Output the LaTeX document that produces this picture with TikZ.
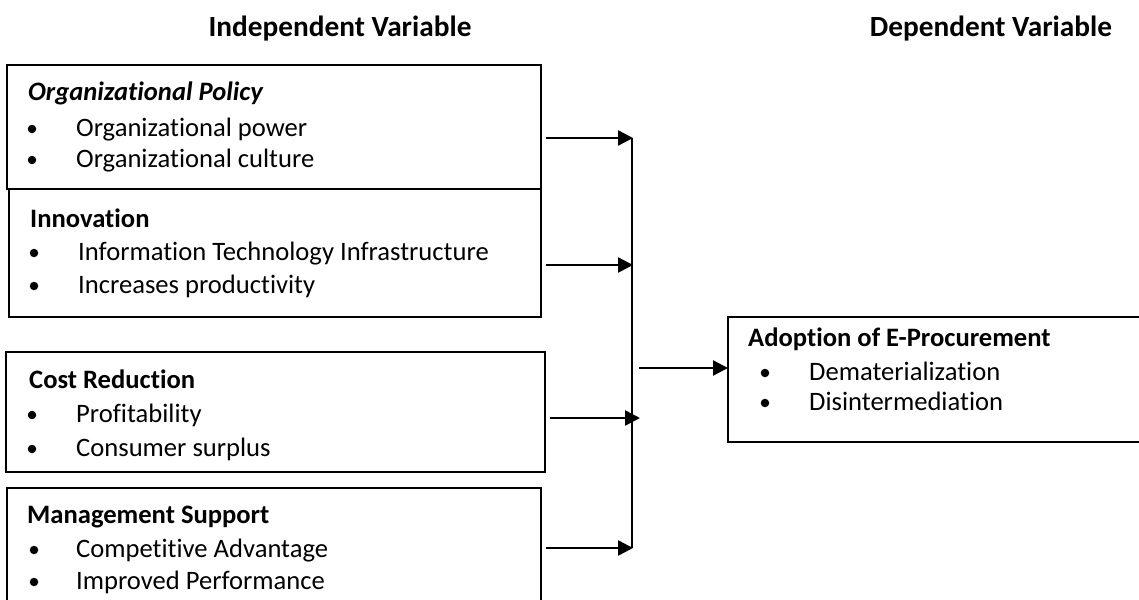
\documentclass[tikz,border=0pt]{standalone}
\usepackage{fontspec}
\setmainfont{Carlito}[RawFeature={-liga}]
\usetikzlibrary{arrows.meta}
\begin{document}
\begin{tikzpicture}[x=1pt,y=-1pt,
  txt/.style={font=\fontsize{26.6}{32}\selectfont, inner sep=0pt, anchor=base west},
  head/.style={font=\fontsize{29.3}{35}\selectfont\bfseries, inner sep=0pt, anchor=base},
  varbox/.style={draw=black, line width=2pt, inner sep=0pt, outer sep=0pt, anchor=north west},
  dot/.style={circle, fill=black, inner sep=0pt, minimum size=8.5pt},
  arr/.style={line width=2.5pt, -{Triangle[length=15pt,width=15pt]}},
  bus/.style={line width=2pt}]
\useasboundingbox (0,0) rectangle (1139,599);
\clip (0,0) rectangle (1139,599);

% column headings
\node[head] (hind) at (340,37) {Independent Variable};
\node[head] (hdep) at (991,37) {Dependent Variable};

% independent variable boxes
\node[varbox, minimum width=534pt, minimum height=124pt] (b1) at (7,65) {};
\node[varbox, minimum width=532pt, minimum height=128pt] (b2) at (9,189) {};
\node[varbox, minimum width=539pt, minimum height=120pt] (b3) at (6,352) {};
\node[varbox, minimum width=534pt, minimum height=117pt] (b4) at (7,488) {};

% dependent variable box (runs past the right edge)
\node[varbox, minimum width=420pt, minimum height=125pt] (dv) at (728,317) {};

% box 1
\node[txt, font=\fontsize{26.6}{32}\selectfont\bfseries\itshape] (t1) at (28,100) {Organizational Policy};
\node[dot] (d11) at (32,129) {};
\node[txt] (t11) at (76,136) {Organizational power};
\node[dot] (d12) at (32,160) {};
\node[txt] (t12) at (76,167) {Organizational culture};

% box 2
\node[txt, font=\fontsize{26.6}{32}\selectfont\bfseries] (t2) at (30,227) {Innovation};
\node[dot] (d21) at (34,253) {};
\node[txt] (t21) at (78,260) {Information Technology Infrastructure};
\node[dot] (d22) at (34,286) {};
\node[txt] (t22) at (78,293) {Increases productivity};

% box 3
\node[txt, font=\fontsize{26.6}{32}\selectfont\bfseries] (t3) at (29,388) {Cost Reduction};
\node[dot] (d31) at (32,415) {};
\node[txt] (t31) at (76,422) {Profitability};
\node[dot] (d32) at (32,449) {};
\node[txt] (t32) at (76,456) {Consumer surplus};

% box 4
\node[txt, font=\fontsize{26.6}{32}\selectfont\bfseries] (t4) at (27,523) {Management Support};
\node[dot] (d41) at (34,550) {};
\node[txt] (t41) at (76,557) {Competitive Advantage};
\node[dot] (d42) at (34,582) {};
\node[txt] (t42) at (76,589) {Improved Performance};

% dependent box text
\node[txt, font=\fontsize{26.6}{32}\selectfont\bfseries] (t5) at (748,346) {Adoption of E-Procurement};
\node[dot] (d51) at (765,373) {};
\node[txt] (t51) at (809,380) {Dematerialization};
\node[dot] (d52) at (765,403) {};
\node[txt] (t52) at (809,410) {Disintermediation};

% junctions on the collecting bus
\coordinate (j1) at (633,138);
\coordinate (j2) at (633,265);
\coordinate (j3) at (640,418);
\coordinate (j4) at (633,548);
\coordinate (jo) at (639,368);

% connectors
\draw[arr] ([xshift=5pt]b1.east |- j1) -- (j1);
\draw[arr] ([xshift=5pt]b2.east |- j2) -- (j2);
\draw[arr] ([xshift=5pt]b3.east |- j3) -- (j3);
\draw[arr] ([xshift=5pt]b4.east |- j4) -- (j4);
\draw[bus] ([xshift=-1pt]j1) -- ([xshift=-1pt]j4);
\draw[arr] (jo) -- (dv.west |- jo);
\end{tikzpicture}
\end{document}
